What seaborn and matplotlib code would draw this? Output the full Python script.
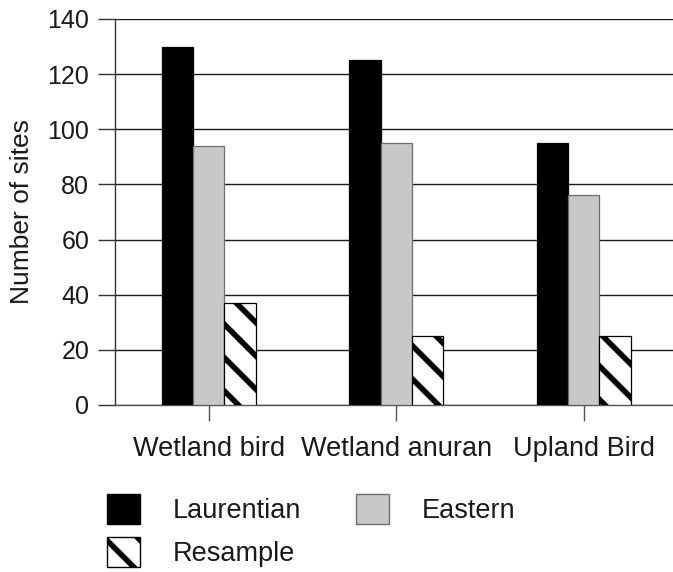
import matplotlib
matplotlib.use("Agg")
import matplotlib.pyplot as plt
from matplotlib.patches import Patch
import seaborn as sns
import pandas as pd

categories = ["Wetland bird", "Wetland anuran", "Upland Bird"]
series = ["Laurentian", "Eastern", "Resample"]
laurentian = [130, 125, 95]
eastern = [94, 95, 76]
resample = [37, 25, 25]
yticks = [0, 20, 40, 60, 80, 100, 120, 140]

rows = []
for name, vals in zip(series, [laurentian, eastern, resample]):
    for c, v in zip(categories, vals):
        rows.append({"cat": c, "series": name, "value": v})
df = pd.DataFrame(rows)

sns.set_style("white")
plt.rcParams["font.family"] = ["Liberation Sans", "DejaVu Sans"]
plt.rcParams["hatch.linewidth"] = 4.0

W, H = 673, 572
fig = plt.figure(figsize=(W / 100, H / 100), dpi=100)
left = 115 / W
bottom = (H - 405) / H
height = (405 - 19) / H
width = 562.5 / W
ax = fig.add_axes([left, bottom, width, height])

colors = {"Laurentian": "#000000", "Eastern": "#c8c8c8", "Resample": "#ffffff"}
sns.barplot(data=df, x="cat", y="value", hue="series", hue_order=series,
            order=categories, palette=colors, width=0.5, saturation=1,
            legend=False, ax=ax, zorder=3)

edge = {"Laurentian": "#000000", "Eastern": "#6e6e6e", "Resample": "#000000"}
for name, cont in zip(series, ax.containers):
    for p in cont.patches:
        p.set_edgecolor(edge[name])
        p.set_linewidth(0.9)
        if name == "Resample":
            p.set_hatch("\\")

ax.set_ylim(0, 140)
ax.set_xlim(-0.5, 2.5)
ax.set_yticks(yticks)
ax.set_yticklabels([str(t) for t in yticks])
ax.yaxis.grid(True, color="#1a1a1a", linewidth=1.0, zorder=0)
ax.set_axisbelow(True)
for s in ["top", "right"]:
    ax.spines[s].set_visible(False)
ax.spines["left"].set_color("#333333")
ax.spines["bottom"].set_color("#555555")
ax.spines["left"].set_linewidth(1.0)
ax.spines["bottom"].set_linewidth(1.0)
ax.tick_params(axis="y", direction="out", length=12, width=1.0, color="#333333",
               labelsize=18, pad=6.5, labelcolor="#1a1a1a", left=True)
ax.tick_params(axis="x", direction="out", length=11.5, width=1.0, color="#555555",
               labelsize=19.5, pad=11, labelcolor="#1a1a1a", bottom=True)
ax.set_xlabel("")
ax.set_ylabel("Number of sites", fontsize=19, color="#1a1a1a", labelpad=10)

handles = [
    Patch(facecolor="#000000", edgecolor="#000000", label="Laurentian"),
    Patch(facecolor="#ffffff", edgecolor="#000000", hatch="\\", label="Resample"),
    Patch(facecolor="#c8c8c8", edgecolor="#6e6e6e", label="Eastern"),
]
fig.legend(handles=handles, loc="upper left", bbox_to_anchor=(107 / W, 1 - 494 / H),
           ncol=2, frameon=False, fontsize=19.5, borderpad=0, borderaxespad=0,
           handlelength=1.22, handleheight=1.35, handletextpad=1.22,
           labelspacing=0.45, columnspacing=2.0, labelcolor="#1a1a1a")

fig.savefig("out.png", dpi=100)
